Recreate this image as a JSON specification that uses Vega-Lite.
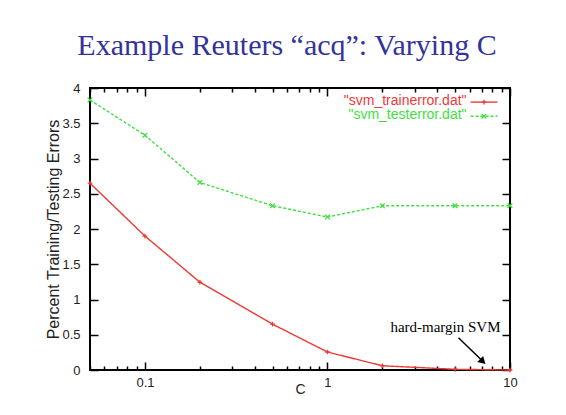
{
  "$schema": "https://vega.github.io/schema/vega-lite/v6.json",
  "width": 420,
  "height": 282,
  "autosize": {"type": "none"},
  "padding": {"left": 90, "top": 88, "right": 56, "bottom": 45},
  "background": "white",
  "title": {
    "text": "Example Reuters “acq”: Varying C",
    "font": "Liberation Serif",
    "fontSize": 30,
    "fontWeight": "normal",
    "color": "#333399",
    "anchor": "middle",
    "dx": -13,
    "offset": -9,
    "baseline": "bottom"
  },
  "config": {
    "font": "Liberation Sans",
    "view": {"stroke": "black", "strokeWidth": 2},
    "axis": {
      "grid": false,
      "domain": false,
      "tickColor": "black",
      "tickWidth": 1.5,
      "labelFont": "Liberation Sans",
      "labelFontSize": 13,
      "labelColor": "#222222",
      "titleFont": "Liberation Sans",
      "titleFontSize": 14,
      "titleFontWeight": "normal",
      "titleColor": "#222222"
    }
  },
  "datasets": {
    "errors": [
      {"C": 0.05, "err": 2.65, "series": "svm_trainerror.dat"},
      {"C": 0.1, "err": 1.9, "series": "svm_trainerror.dat"},
      {"C": 0.2, "err": 1.245, "series": "svm_trainerror.dat"},
      {"C": 0.5, "err": 0.65, "series": "svm_trainerror.dat"},
      {"C": 1, "err": 0.255, "series": "svm_trainerror.dat"},
      {"C": 2, "err": 0.06, "series": "svm_trainerror.dat"},
      {"C": 5, "err": 0.01, "series": "svm_trainerror.dat"},
      {"C": 10, "err": 0.0, "series": "svm_trainerror.dat"},
      {"C": 0.05, "err": 3.83, "series": "svm_testerror.dat"},
      {"C": 0.1, "err": 3.33, "series": "svm_testerror.dat"},
      {"C": 0.2, "err": 2.66, "series": "svm_testerror.dat"},
      {"C": 0.5, "err": 2.33, "series": "svm_testerror.dat"},
      {"C": 1, "err": 2.17, "series": "svm_testerror.dat"},
      {"C": 2, "err": 2.33, "series": "svm_testerror.dat"},
      {"C": 5, "err": 2.33, "series": "svm_testerror.dat"},
      {"C": 10, "err": 2.33, "series": "svm_testerror.dat"}
    ]
  },
  "resolve": {"axis": {"x": "independent", "y": "independent"}},
  "layer": [
    {
      "data": {"name": "errors"},
      "mark": {"type": "line", "strokeWidth": 1.4, "clip": false},
      "encoding": {
        "x": {
          "field": "C",
          "type": "quantitative",
          "scale": {"type": "log", "domain": [0.05, 10], "nice": false},
          "axis": {
            "orient": "bottom",
            "title": "C",
            "values": [0.05, 0.06, 0.07, 0.08, 0.09, 0.1, 0.2, 0.3, 0.4, 0.5, 0.6, 0.7, 0.8, 0.9, 1, 2, 3, 4, 5, 6, 7, 8, 9, 10],
            "labelExpr": "datum.value == 0.1 ? '0.1' : datum.value == 1 ? '1' : datum.value == 10 ? '10' : ''",
            "tickSize": {"condition": {"test": "datum.value == 0.1 || datum.value == 1 || datum.value == 10", "value": -8}, "value": -4},
            "labelPadding": 14,
            "labelFlush": false,
            "labelOverlap": false,
            "titlePadding": -11
          }
        },
        "y": {
          "field": "err",
          "type": "quantitative",
          "scale": {"domain": [0, 4], "nice": false, "zero": false},
          "axis": {
            "orient": "left",
            "title": "Percent Training/Testing Errors",
            "titleFontSize": 16,
            "values": [0, 0.5, 1, 1.5, 2, 2.5, 3, 3.5, 4],
            "format": "~g",
            "tickSize": -8,
            "labelPadding": 18,
            "labelFlush": false,
            "labelOverlap": false,
            "titlePadding": 0
          }
        },
        "color": {
          "field": "series",
          "type": "nominal",
          "scale": {"domain": ["svm_trainerror.dat", "svm_testerror.dat"], "range": ["#ee3a34", "#3fe03f"]},
          "legend": null
        },
        "strokeDash": {
          "field": "series",
          "type": "nominal",
          "scale": {"domain": ["svm_trainerror.dat", "svm_testerror.dat"], "range": [[1, 0], [3, 2]]},
          "legend": null
        }
      }
    },
    {
      "data": {"name": "errors"},
      "mark": {"type": "point", "filled": false, "strokeWidth": 1.3, "size": 22, "opacity": 1, "clip": false},
      "encoding": {
        "x": {"field": "C", "type": "quantitative", "axis": null},
        "y": {"field": "err", "type": "quantitative", "axis": null},
        "color": {"field": "series", "type": "nominal", "legend": null},
        "shape": {
          "field": "series",
          "type": "nominal",
          "scale": {"domain": ["svm_trainerror.dat", "svm_testerror.dat"], "range": ["M-1,0H1M0,-1V1", "M-1,-1L1,1M-1,1L1,-1"]},
          "legend": null
        }
      }
    },
    {
      "data": {"name": "errors"},
      "mark": {"type": "point", "opacity": 0},
      "encoding": {
        "x": {
          "field": "C",
          "type": "quantitative",
          "axis": {
            "orient": "top",
            "title": null,
            "labels": false,
            "values": [0.05, 0.06, 0.07, 0.08, 0.09, 0.1, 0.2, 0.3, 0.4, 0.5, 0.6, 0.7, 0.8, 0.9, 1, 2, 3, 4, 5, 6, 7, 8, 9, 10],
            "tickSize": {"condition": {"test": "datum.value == 0.1 || datum.value == 1 || datum.value == 10", "value": -8}, "value": -4}
          }
        },
        "y": {
          "field": "err",
          "type": "quantitative",
          "axis": {
            "orient": "right",
            "title": null,
            "labels": false,
            "values": [0, 0.5, 1, 1.5, 2, 2.5, 3, 3.5, 4],
            "tickSize": -8
          }
        }
      }
    },
    {
      "data": {"values": [{"label": "\"svm_trainerror.dat\""}]},
      "mark": {"type": "text", "align": "right", "baseline": "middle", "font": "Liberation Sans", "fontSize": 14, "color": "#f03a3a"},
      "encoding": {
        "x": {"datum": 5.78, "type": "quantitative", "axis": null},
        "y": {"datum": 3.82, "type": "quantitative", "axis": null},
        "text": {"field": "label"}
      }
    },
    {
      "data": {"values": [{"label": "\"svm_testerror.dat\""}]},
      "mark": {"type": "text", "align": "right", "baseline": "middle", "font": "Liberation Sans", "fontSize": 14, "color": "#3fe03f"},
      "encoding": {
        "x": {"datum": 5.78, "type": "quantitative", "axis": null},
        "y": {"datum": 3.61, "type": "quantitative", "axis": null},
        "text": {"field": "label"}
      }
    },
    {
      "data": {"values": [{"series": "svm_trainerror.dat"}]},
      "mark": {"type": "rule", "strokeWidth": 1.4, "color": "#ee3a34"},
      "encoding": {
        "x": {"datum": 6.08, "type": "quantitative", "axis": null},
        "x2": {"datum": 8.54},
        "y": {"datum": 3.8, "type": "quantitative", "axis": null}
      }
    },
    {
      "data": {"values": [{"series": "svm_testerror.dat"}]},
      "mark": {"type": "rule", "strokeWidth": 1.4, "color": "#3fe03f", "strokeDash": [3, 2]},
      "encoding": {
        "x": {"datum": 6.08, "type": "quantitative", "axis": null},
        "x2": {"datum": 8.54},
        "y": {"datum": 3.6, "type": "quantitative", "axis": null}
      }
    },
    {
      "data": {"values": [{"series": "svm_trainerror.dat"}]},
      "mark": {"type": "point", "filled": false, "strokeWidth": 1.3, "size": 22, "color": "#ee3a34", "shape": "M-1,0H1M0,-1V1", "opacity": 1},
      "encoding": {
        "x": {"datum": 7.2, "type": "quantitative", "axis": null},
        "y": {"datum": 3.8, "type": "quantitative", "axis": null}
      }
    },
    {
      "data": {"values": [{"series": "svm_testerror.dat"}]},
      "mark": {"type": "point", "filled": false, "strokeWidth": 1.3, "size": 22, "color": "#3fe03f", "shape": "M-1,-1L1,1M-1,1L1,-1", "opacity": 1},
      "encoding": {
        "x": {"datum": 7.2, "type": "quantitative", "axis": null},
        "y": {"datum": 3.6, "type": "quantitative", "axis": null}
      }
    },
    {
      "data": {"values": [{"note": "hard-margin SVM"}]},
      "mark": {"type": "text", "align": "center", "baseline": "middle", "font": "Liberation Serif", "fontSize": 15, "color": "black"},
      "encoding": {
        "x": {"datum": 4.43, "type": "quantitative", "axis": null},
        "y": {"datum": 0.61, "type": "quantitative", "axis": null},
        "text": {"field": "note"}
      }
    },
    {
      "data": {"values": [{"note": "hard-margin SVM"}]},
      "mark": {"type": "rule", "strokeWidth": 1.5, "color": "black"},
      "encoding": {
        "x": {"datum": 5.22, "type": "quantitative", "axis": null},
        "x2": {"datum": 6.98},
        "y": {"datum": 0.458, "type": "quantitative", "axis": null},
        "y2": {"datum": 0.142}
      }
    },
    {
      "data": {"values": [{"note": "hard-margin SVM"}]},
      "mark": {"type": "point", "shape": "triangle-up", "filled": true, "color": "black", "size": 70, "angle": 134, "opacity": 1},
      "encoding": {
        "x": {"datum": 7.1, "type": "quantitative", "axis": null},
        "y": {"datum": 0.12, "type": "quantitative", "axis": null}
      }
    }
  ]
}
